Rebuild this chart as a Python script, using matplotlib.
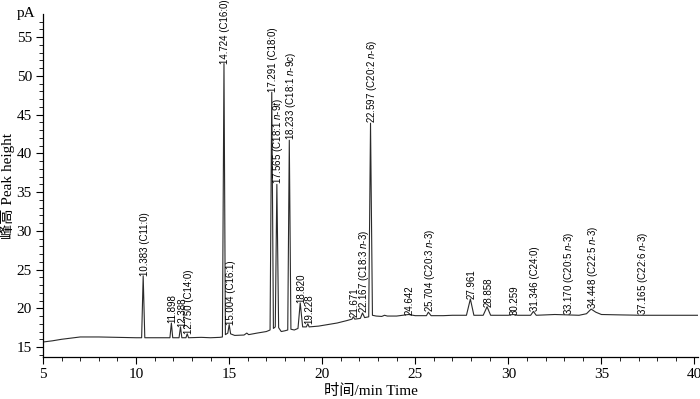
import numpy as np
import matplotlib
matplotlib.use('Agg')
import matplotlib.pyplot as plt

# 色谱图数据
trace_time = [5.0, 5.5, 6.0, 6.5, 7.0, 8.0, 9.0, 10.0, 10.30, 10.383, 10.47,
              11.0, 11.82, 11.898, 11.97, 12.31, 12.388, 12.46, 12.68, 12.75, 12.82,
              13.5, 14.0, 14.5, 14.64, 14.724, 14.80, 14.93, 15.004, 15.08, 15.3,
              15.8, 15.95, 16.05, 16.5, 17.0, 17.2, 17.291, 17.38, 17.48, 17.565,
              17.66, 17.8, 18.0, 18.15, 18.233, 18.32, 18.5, 18.7, 18.82, 18.95,
              19.15, 19.228, 19.3, 19.8, 20.3, 20.8, 21.3, 21.6, 21.671, 21.75,
              22.05, 22.167, 22.28, 22.50, 22.597, 22.70, 22.9, 23.2, 23.35, 23.5,
              24.0, 24.642, 25.0, 25.6, 25.704, 25.85, 26.5, 27.0, 27.75, 27.961,
              28.15, 28.65, 28.858, 29.05, 30.0, 30.259, 30.5, 31.2, 31.346, 31.5,
              32.5, 33.17, 33.8, 34.2, 34.448, 34.7, 35.0, 36.0, 37.165, 38.0,
              39.0, 40.2]
trace_signal = [15.65, 15.8, 16.0, 16.15, 16.3, 16.3, 16.25, 16.2, 16.2, 24.2, 16.2,
                16.2, 16.2, 18.1, 16.2, 16.2, 17.6, 16.2, 16.2, 16.7, 16.2,
                16.25, 16.2, 16.25, 16.3, 51.6, 16.6, 16.8, 17.9, 16.7, 16.5,
                16.55, 16.8, 16.6, 16.8, 17.0, 17.2, 47.9, 17.4, 17.6, 36.0,
                17.5, 17.0, 17.1, 17.2, 41.7, 17.3, 17.2, 17.4, 20.7, 17.6,
                17.6, 18.0, 17.6, 17.7, 17.9, 18.1, 18.4, 18.6, 18.9, 18.6,
                18.7, 19.4, 18.8, 18.9, 43.9, 19.1, 19.0, 18.95, 19.1, 19.0,
                19.0, 19.2, 19.05, 19.05, 19.5, 19.05, 19.05, 19.1, 19.1, 21.2,
                19.1, 19.1, 20.2, 19.1, 19.1, 19.2, 19.1, 19.1, 19.6, 19.1,
                19.2, 19.15, 19.1, 19.3, 19.9, 19.5, 19.2, 19.15, 19.1, 19.1,
                19.1, 19.1]

# 峰标注
peak_rt = [10.383, 11.898, 12.388, 12.750, 14.724, 15.004, 17.291, 17.565,
           18.233, 18.820, 19.228, 21.671, 22.167, 22.597, 24.642, 25.704,
           27.961, 28.858, 30.259, 31.346, 33.170, 34.448, 37.165]
peak_top = [24.2, 18.1, 17.6, 16.7, 51.6, 17.9, 47.9, 36.0,
            41.7, 20.7, 18.0, 18.9, 19.4, 43.9, 19.2, 19.5,
            21.2, 20.2, 19.2, 19.6, 19.15, 19.9, 19.1]
peak_name = ["(C11:0)", "", "", "(C14:0)", "(C16:0)", "(C16:1)", "(C18:0)",
             r"(C18:1 $\mathit{n}$-9$\mathit{t}$)", r"(C18:1 $\mathit{n}$-9$\mathit{c}$)",
             "", "", "", r"(C18:3 $\mathit{n}$-3)", r"(C20:2 $\mathit{n}$-6)", "",
             r"(C20:3 $\mathit{n}$-3)", "", "", "", "(C24:0)",
             r"(C20:5 $\mathit{n}$-3)", r"(C22:5 $\mathit{n}$-3)", r"(C22:6 $\mathit{n}$-3)"]

plt.rcParams['mathtext.fontset'] = 'custom'
plt.rcParams['mathtext.rm'] = 'Liberation Sans'
plt.rcParams['mathtext.it'] = 'Liberation Sans:italic'

fig = plt.figure(figsize=(7, 3.99), dpi=100)
ax = fig.add_axes([0.0614, 0.105, 0.936, 0.86])

ax.plot(trace_time, trace_signal, color='#2a2a2a', linewidth=0.8)

# 峰标签 (竖排)
for rt, top, name in zip(peak_rt, peak_top, peak_name):
    label = "%.3f %s" % (rt, name) if name else "%.3f" % rt
    ax.annotate(label, xy=(rt, top), xytext=(1, 0), textcoords='offset points',
                rotation=90, ha='center', va='bottom', fontsize=7,
                family='Liberation Sans', annotation_clip=False)

ax.set_xlim(5, 40.2)
ax.set_ylim(13.7, 58)
ax.set_xticks(np.arange(5, 41, 5))
ax.set_xticks(np.arange(5, 41, 1), minor=True)
ax.set_yticks(np.arange(15, 56, 5))
ax.set_yticks(np.arange(14, 58, 1), minor=True)

for side in ['top', 'right']:
    ax.spines[side].set_visible(False)
for side in ['left', 'bottom']:
    ax.spines[side].set_linewidth(0.9)

ax.tick_params(which='major', length=5, width=0.8, pad=3, labelsize=11)
ax.tick_params(which='minor', length=3, width=0.6)
for lab in ax.get_xticklabels() + ax.get_yticklabels():
    lab.set_family('Liberation Serif')

ax.set_xlabel('时间/min Time', family=['Liberation Serif', 'Noto Sans CJK SC'],
              fontsize=11, labelpad=2)
ax.set_ylabel('峰高 Peak height', family=['Liberation Serif', 'Noto Sans CJK SC'],
              fontsize=11, labelpad=1)
ax.text(-0.012, 1.0, 'pA', transform=ax.transAxes, ha='right', va='center',
        fontsize=11, family='Liberation Serif')

fig.savefig('out.png', dpi=100)
